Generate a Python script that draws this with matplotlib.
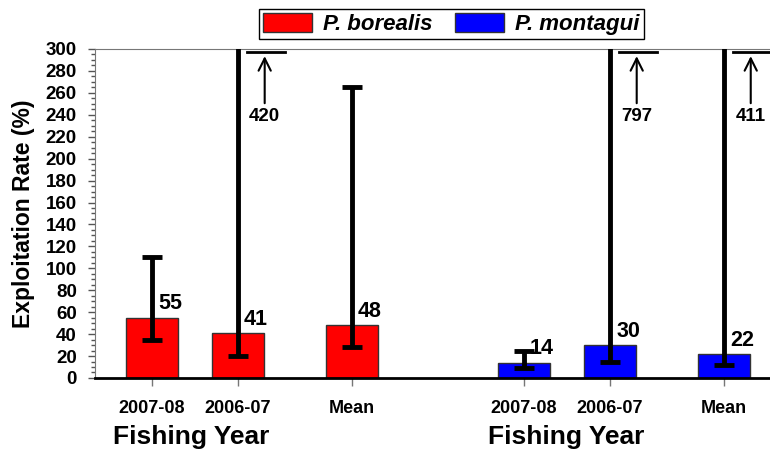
import matplotlib.pyplot as plt
import numpy as np

plt.rcParams['font.family'] = ['Liberation Sans', 'DejaVu Sans']
plt.rcParams['font.weight'] = 'bold'

categories = ['2007-08', '2006-07', 'Mean']
borealis = [55, 41, 48]
borealis_lo = [35, 20, 28]
borealis_hi = [110, 420, 265]
montagui = [14, 30, 22]
montagui_lo = [9, 15, 12]
montagui_hi = [25, 797, 411]

YMAX = 300

fig = plt.figure(figsize=(7.7, 4.53), dpi=100)
ax = fig.add_axes([0.1234, 0.1656, 0.8766, 0.7263])

pos_b = np.array([0, 1, 2.326])
pos_m = pos_b + 4.326
w = 0.605


def draw(pos, vals, lo, hi, color, label):
    vals = np.array(vals)
    ax.bar(pos, vals, width=w, color=color, edgecolor='#333333', linewidth=1,
           label=label, zorder=2)
    err = [vals - np.array(lo), np.array(hi) - vals]
    ax.errorbar(pos, vals, yerr=err, fmt='none', ecolor='black', elinewidth=3.5,
                capsize=7, capthick=3.5, zorder=3)
    for x, v, h in zip(pos, vals, hi):
        ax.text(x + 0.07, v + 3, str(v), ha='left', va='bottom', fontsize=15.5,
                fontweight='bold')
        if h > YMAX:
            ax.plot([x + 0.105, x + 0.55], [297, 297], color='black', lw=2,
                    clip_on=False, zorder=4)
            ax.annotate('', xy=(x + 0.31, 296), xytext=(x + 0.31, 248),
                        arrowprops=dict(arrowstyle='->', lw=1.5, color='black',
                                        mutation_scale=22))
            ax.text(x + 0.31, 238, str(h), ha='center', va='center',
                    fontsize=13.5, fontweight='bold')


draw(pos_b, borealis, borealis_lo, borealis_hi, '#ff0000', 'P. borealis')
draw(pos_m, montagui, montagui_lo, montagui_hi, '#0000ff', 'P. montagui')

ax.set_xlim(-0.663, 7.186)
ax.set_ylim(0, YMAX)
ax.set_yticks(np.arange(0, 301, 20))
ax.set_yticks(np.arange(0, 301, 5), minor=True)
ax.tick_params(axis='y', which='major', length=5, width=1, color='#555555',
               labelsize=13.5, pad=8)
ax.tick_params(axis='y', which='minor', length=3, width=1, color='#555555')
ax.set_xticks(np.concatenate([pos_b, pos_m]))
ax.set_xticklabels(categories + categories)
ax.tick_params(axis='x', length=6, width=1, color='#777777', labelsize=13,
               pad=10)
for t in ax.get_xticklabels() + ax.get_yticklabels():
    t.set_fontweight('bold')

ax.spines['right'].set_visible(False)
ax.spines['top'].set_color('#777777')
ax.spines['left'].set_color('#777777')
ax.spines['bottom'].set_linewidth(2)
ax.spines['bottom'].set_color('black')

ax.set_ylabel('Exploitation Rate (%)', fontsize=16.5, fontweight='bold',
              labelpad=8)

trans = ax.get_xaxis_transform()
for xc in [0.453, 4.814]:
    ax.text(xc, -0.18, 'Fishing Year', transform=trans, ha='center',
            va='center', fontsize=19, fontweight='bold')

leg = fig.legend(loc='center', bbox_to_anchor=(0.586, 0.947), ncol=2,
                 fancybox=False, edgecolor='black', framealpha=1,
                 prop={'style': 'italic', 'weight': 'bold', 'size': 16},
                 handlelength=2.2, handleheight=0.9, borderpad=0.2,
                 columnspacing=1.0, handletextpad=0.5, borderaxespad=0)
leg.get_frame().set_linewidth(1)

fig.savefig('out.png', dpi=100)
